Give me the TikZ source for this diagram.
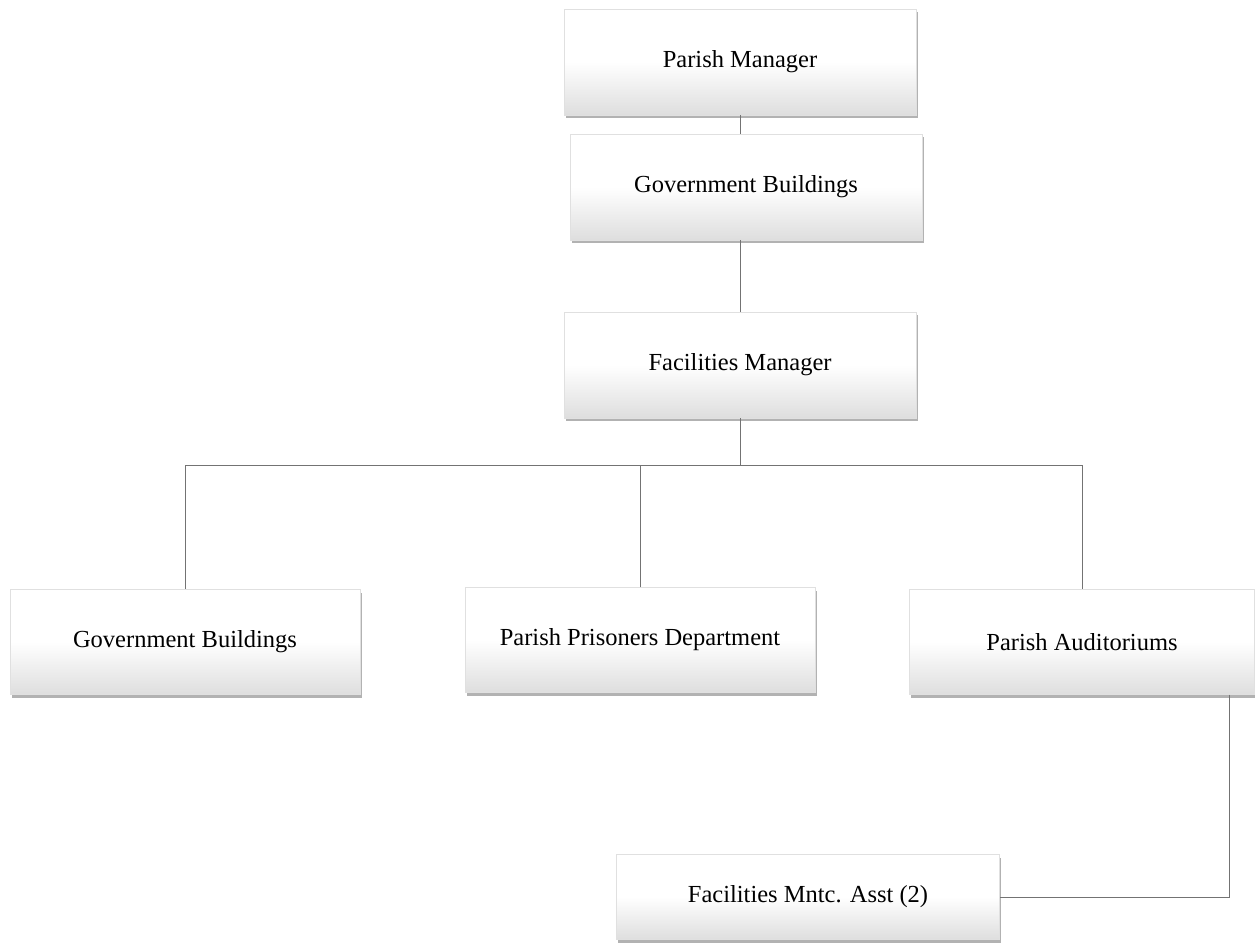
\documentclass[tikz,border=0pt]{standalone}
\usepackage{fontspec}
\setmainfont{Liberation Serif}
\usetikzlibrary{shadows}

\tikzset{
  orgbox/.style={draw=black!12, line width=0.4pt, top color=white, bottom color=black!13,
    middle color=white, minimum width=352pt, minimum height=106pt, inner sep=0pt,
    drop shadow={shadow xshift=1.5pt, shadow yshift=-3pt, opacity=0.5, fill=black!60},
    font=\fontsize{24.5}{28}\selectfont, align=center},
  link/.style={draw=black!55, line width=1pt}
}

\begin{document}
\begin{tikzpicture}[x=1pt, y=-1pt]
\useasboundingbox (0,0) rectangle (1255,946);
% top chain
\node[orgbox] (pm) at (740,62) {Parish Manager};
\node[orgbox] (gbtop) at (746,187) {Government Buildings};
\node[orgbox] (fm) at (740,365) {Facilities Manager};
% second row
\node[orgbox, minimum width=350pt, minimum height=105pt] (gbrow) at (185,642) {Government Buildings};
\node[orgbox, minimum width=350pt, minimum height=105pt] (ppd) at (640,640) {Parish Prisoners Department};
\node[orgbox, minimum width=345pt, minimum height=105pt] (pa) at (1082,642) {Parish Auditoriums};
% assistant
\node[orgbox, minimum width=383pt, minimum height=85pt] (fma) at (808,897) {Facilities Mntc. Asst (2)};
\coordinate (bus) at (740,465);
\coordinate (turn) at (1229,897);
% connectors
\draw[link] (pm.south) -- (pm.south |- gbtop.north);
\draw[link] (gbtop.south -| fm.north) -- (fm.north);
\draw[link] (fm.south) -- (bus);
\draw[link] (bus) -| (gbrow.north);
\draw[link] (bus) -| (pa.north);
\draw[link] (ppd.north) -- (ppd.north |- bus);
\draw[link] (pa.south -| turn) |- (fma.east);
\end{tikzpicture}
\end{document}
